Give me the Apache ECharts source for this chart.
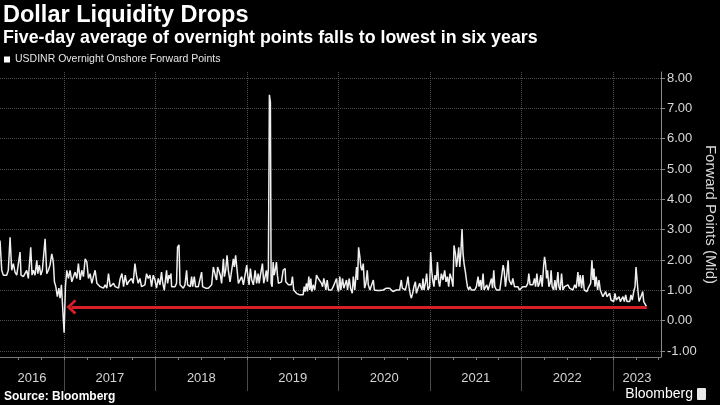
<!DOCTYPE html>
<html><head><meta charset="utf-8">
<script src="https://cdn.jsdelivr.net/npm/echarts@6/dist/echarts.min.js"></script>
<style>html,body{margin:0;padding:0;background:#000;}#c{width:720px;height:405px;}</style>
</head><body><div id="c"></div>
<script>
const chartTitle = 'Dollar Liquidity Drops';
const chartSubtitle = 'Five-day average of overnight points falls to lowest in six years';
const seriesName = 'USDINR Overnight Onshore Forward Points';
const yAxisName = 'Forward Points (Mid)';
const sourceText = 'Source: Bloomberg';
const yearBoundaries = [2017, 2018, 2019, 2020, 2021, 2022, 2023];
const yearLabels = [2016, 2017, 2018, 2019, 2020, 2021, 2022, 2023];
const yTickValues = [-1, 0, 1, 2, 3, 4, 5, 6, 7, 8];
const xStart = 2016.299, xEnd = 2023.525;
const yMin = -1.2, yMax = 8.2;
// [decimal year, forward points]
const points = [
[2016.299,2.64],[2016.318,1.66],[2016.335,1.5],[2016.354,1.55],[2016.372,1.5],[2016.390,1.66],[2016.409,2.75],[2016.427,1.66],[2016.445,1.88],[2016.463,1.6],[2016.482,1.5],[2016.499,1.45],[2016.518,2.26],[2016.529,1.5],[2016.554,1.45],[2016.573,1.5],[2016.591,1.66],[2016.609,1.39],[2016.635,2.42],[2016.649,1.5],[2016.664,1.66],[2016.682,1.5],[2016.701,1.99],[2016.712,1.55],[2016.729,1.83],[2016.745,1.5],[2016.762,1.66],[2016.792,2.7],[2016.810,1.55],[2016.828,1.66],[2016.846,1.83],[2016.865,2.2],[2016.876,2.04],[2016.883,1.88],[2016.894,1.28],[2016.909,1.12],[2016.926,0.79],[2016.942,1.07],[2016.956,0.74],[2016.970,1.18],[2016.986,1.12],[2017.000,-0.4],
[2017.014,1.12],[2017.029,1.66],[2017.047,1.39],[2017.065,1.66],[2017.084,1.28],[2017.102,1.45],[2017.120,1.6],[2017.139,1.39],[2017.156,1.88],[2017.175,1.34],[2017.193,1.66],[2017.211,1.45],[2017.230,2.04],[2017.248,1.94],[2017.266,1.39],[2017.284,1.55],[2017.303,1.23],[2017.320,1.45],[2017.339,1.66],[2017.358,1.23],[2017.375,1.28],[2017.394,1.12],[2017.412,1.18],[2017.430,1.07],[2017.449,1.18],[2017.467,1.07],[2017.485,1.55],[2017.504,1.12],[2017.522,1.07],[2017.540,1.23],[2017.558,1.12],[2017.577,1.18],[2017.595,1.07],[2017.613,1.39],[2017.632,1.55],[2017.650,1.12],[2017.668,1.5],[2017.687,1.18],[2017.704,1.28],[2017.720,1.28],[2017.737,1.39],[2017.755,1.23],[2017.774,1.88],[2017.791,1.5],[2017.810,1.23],[2017.829,1.39],[2017.846,1.12],[2017.865,1.07],[2017.883,1.18],[2017.901,1.55],[2017.919,1.39],[2017.938,1.5],[2017.956,1.12],[2017.974,1.5],[2017.993,1.34],
[2018.010,1.07],[2018.029,1.39],[2018.047,1.18],[2018.065,1.6],[2018.076,1.28],[2018.095,1.0],[2018.109,0.96],[2018.120,1.66],[2018.131,1.23],[2018.146,1.5],[2018.157,1.39],[2018.168,1.55],[2018.175,1.12],[2018.193,1.07],[2018.212,1.12],[2018.229,1.23],[2018.240,2.42],[2018.256,2.5],[2018.267,1.18],[2018.284,1.12],[2018.303,1.07],[2018.321,1.18],[2018.339,1.66],[2018.350,1.18],[2018.365,1.12],[2018.379,1.12],[2018.394,1.45],[2018.405,1.12],[2018.423,1.45],[2018.437,1.12],[2018.448,1.07],[2018.467,1.12],[2018.485,1.18],[2018.503,1.6],[2018.514,1.12],[2018.533,1.12],[2018.547,1.07],[2018.562,1.12],[2018.576,1.07],[2018.595,1.12],[2018.613,1.18],[2018.631,1.77],[2018.642,1.83],[2018.656,1.45],[2018.667,1.34],[2018.678,1.77],[2018.694,1.72],[2018.708,1.5],[2018.722,1.23],[2018.741,2.04],[2018.752,1.45],[2018.766,1.66],[2018.781,2.15],[2018.795,1.66],[2018.814,1.28],[2018.832,1.23],[2018.850,2.04],[2018.861,1.77],[2018.875,2.15],[2018.891,1.66],[2018.905,1.23],[2018.924,1.18],[2018.941,1.45],[2018.960,1.18],[2018.978,1.12],[2018.996,1.83],
[2019.007,1.5],[2019.022,1.18],[2019.036,1.72],[2019.051,1.34],[2019.069,1.18],[2019.088,1.66],[2019.105,1.23],[2019.121,1.55],[2019.132,1.23],[2019.146,1.5],[2019.168,1.88],[2019.182,1.23],[2019.201,1.18],[2019.211,1.66],[2019.222,1.28],[2019.233,1.72],[2019.244,7.45],[2019.255,7.2],[2019.263,1.23],[2019.274,1.12],[2019.285,1.93],[2019.296,1.5],[2019.307,1.66],[2019.321,1.93],[2019.332,1.5],[2019.343,1.23],[2019.357,1.18],[2019.376,1.28],[2019.394,1.66],[2019.405,1.6],[2019.416,1.72],[2019.423,1.28],[2019.438,1.23],[2019.452,1.18],[2019.467,1.12],[2019.482,1.18],[2019.496,1.45],[2019.510,1.01],[2019.526,0.96],[2019.540,0.9],[2019.559,0.9],[2019.576,0.85],[2019.595,0.79],[2019.613,0.85],[2019.624,1.12],[2019.635,0.96],[2019.649,1.23],[2019.660,0.96],[2019.675,1.45],[2019.686,1.01],[2019.697,1.39],[2019.708,0.96],[2019.723,1.18],[2019.740,1.01],[2019.759,1.5],[2019.778,1.39],[2019.795,1.45],[2019.814,1.23],[2019.825,1.12],[2019.839,1.39],[2019.850,1.23],[2019.861,1.01],[2019.876,1.34],[2019.890,1.01],[2019.905,0.96],[2019.923,1.01],[2019.942,1.12],[2019.959,1.07],[2019.978,1.39],[2019.989,1.07],
[2020.000,0.96],[2020.014,1.45],[2020.025,1.01],[2020.044,1.39],[2020.058,1.07],[2020.073,1.01],[2020.087,1.34],[2020.098,1.01],[2020.117,1.39],[2020.131,1.07],[2020.150,0.9],[2020.161,1.45],[2020.178,1.01],[2020.197,1.77],[2020.208,1.34],[2020.219,2.42],[2020.233,2.1],[2020.244,1.77],[2020.255,1.66],[2020.270,1.88],[2020.285,1.07],[2020.299,1.23],[2020.314,1.66],[2020.325,1.18],[2020.343,1.01],[2020.361,1.07],[2020.380,1.34],[2020.391,1.01],[2020.408,1.01],[2020.423,0.99],[2020.452,0.99],[2020.489,1.01],[2020.507,1.07],[2020.522,1.07],[2020.540,1.01],[2020.558,1.07],[2020.577,1.01],[2020.594,0.96],[2020.613,0.99],[2020.632,1.01],[2020.649,0.96],[2020.668,1.01],[2020.686,1.34],[2020.697,1.07],[2020.715,1.01],[2020.730,1.01],[2020.744,1.18],[2020.759,1.45],[2020.770,1.12],[2020.785,0.85],[2020.796,0.74],[2020.810,0.9],[2020.824,1.12],[2020.840,1.28],[2020.851,0.9],[2020.862,1.01],[2020.876,1.07],[2020.887,1.23],[2020.898,1.12],[2020.912,1.01],[2020.923,1.39],[2020.934,1.01],[2020.949,1.23],[2020.963,1.55],[2020.978,1.01],[2020.996,1.12],
[2021.007,2.26],[2021.018,1.66],[2021.029,1.34],[2021.043,1.12],[2021.054,1.5],[2021.070,1.34],[2021.081,1.93],[2021.095,1.28],[2021.106,1.12],[2021.124,1.55],[2021.142,1.34],[2021.160,1.66],[2021.175,1.28],[2021.190,1.45],[2021.204,1.12],[2021.218,1.55],[2021.234,1.39],[2021.251,1.12],[2021.262,2.48],[2021.278,2.2],[2021.289,1.77],[2021.299,1.99],[2021.314,2.42],[2021.325,1.77],[2021.336,2.2],[2021.350,3.02],[2021.361,2.2],[2021.372,1.88],[2021.387,1.6],[2021.398,1.34],[2021.409,1.12],[2021.423,1.01],[2021.434,1.12],[2021.453,1.01],[2021.470,1.07],[2021.489,1.01],[2021.507,1.12],[2021.525,1.45],[2021.536,1.12],[2021.551,1.34],[2021.562,1.01],[2021.580,1.55],[2021.591,1.01],[2021.606,1.01],[2021.620,1.18],[2021.635,1.01],[2021.653,1.01],[2021.672,1.39],[2021.683,1.07],[2021.697,1.66],[2021.708,1.12],[2021.726,1.01],[2021.744,0.96],[2021.763,1.01],[2021.781,1.07],[2021.799,1.83],[2021.810,1.66],[2021.825,1.12],[2021.839,1.5],[2021.854,1.99],[2021.865,1.34],[2021.876,1.39],[2021.891,1.18],[2021.905,1.39],[2021.923,1.12],[2021.941,1.07],[2021.960,1.12],[2021.978,1.01],[2021.996,1.07],
[2022.014,1.12],[2022.033,1.07],[2022.051,1.12],[2022.069,1.23],[2022.080,1.55],[2022.094,1.18],[2022.110,1.23],[2022.124,1.18],[2022.142,1.39],[2022.154,1.12],[2022.168,1.55],[2022.182,1.12],[2022.197,1.23],[2022.211,1.5],[2022.226,1.12],[2022.241,1.77],[2022.252,2.1],[2022.263,1.88],[2022.274,1.39],[2022.285,1.66],[2022.299,1.12],[2022.313,1.23],[2022.324,1.66],[2022.335,1.12],[2022.351,1.01],[2022.365,1.34],[2022.379,1.01],[2022.398,1.6],[2022.409,1.12],[2022.423,1.01],[2022.438,1.55],[2022.453,1.01],[2022.471,1.12],[2022.489,1.07],[2022.507,1.18],[2022.526,1.07],[2022.544,1.12],[2022.562,1.01],[2022.581,1.18],[2022.598,1.07],[2022.617,1.6],[2022.628,1.12],[2022.642,1.5],[2022.657,1.07],[2022.671,1.5],[2022.686,1.01],[2022.701,1.07],[2022.715,0.96],[2022.729,1.07],[2022.745,1.01],[2022.756,1.23],[2022.770,1.99],[2022.781,1.34],[2022.792,1.72],[2022.803,1.12],[2022.817,1.45],[2022.832,1.01],[2022.847,1.34],[2022.861,1.01],[2022.876,0.96],[2022.890,0.79],[2022.905,0.85],[2022.920,0.96],[2022.934,0.79],[2022.948,0.74],[2022.964,0.9],[2022.978,0.68],[2022.992,0.74],
[2023.008,0.63],[2023.022,0.9],[2023.036,0.68],[2023.051,0.63],[2023.066,0.79],[2023.080,0.63],[2023.095,0.68],[2023.109,0.79],[2023.124,0.63],[2023.139,0.85],[2023.153,0.63],[2023.167,0.68],[2023.183,0.63],[2023.197,0.85],[2023.211,0.68],[2023.227,0.96],[2023.241,1.12],[2023.252,1.77],[2023.263,1.83],[2023.274,0.96],[2023.285,0.63],[2023.299,0.68],[2023.314,0.85],[2023.325,0.96],[2023.336,0.63],[2023.350,0.58],[2023.365,0.47]
];
const arrowLevel = 0.45;
const arrowFrom = 2023.37, arrowTo = 2017.08;

const FONT = '"Liberation Sans", Arial, sans-serif';
const labelPos = yearLabels.map(y => (Math.max(y, xStart) + Math.min(y + 1, xEnd)) / 2);
const quarterTicks = [];
for (let q = Math.ceil(xStart * 4); q <= Math.floor(xEnd * 4); q++) quarterTicks.push(q / 4);

const chart = echarts.init(document.getElementById('c'), null, {renderer: 'canvas'});
chart.setOption({
  backgroundColor: '#000',
  animation: false,
  textStyle: {fontFamily: FONT},
  title: [
    {text: chartTitle, left: 3, top: 4, padding: 0, textStyle: {color: '#fff', fontSize: 23.5, fontWeight: 'bold', fontFamily: FONT}},
    {text: chartSubtitle, left: 3, top: 29, padding: 0, textStyle: {color: '#fff', fontSize: 17.8, fontWeight: 'bold', fontFamily: FONT}}
  ],
  legend: {
    data: [seriesName], left: 4, top: 54, padding: 0, icon: 'rect', itemWidth: 6, itemHeight: 6, itemGap: 4,
    textStyle: {color: '#e6e6e6', fontSize: 10.5, fontFamily: FONT}
  },
  grid: {left: 0, right: 59, top: 72, bottom: 48, containLabel: false, outerBoundsMode: 'none'},
  xAxis: [
    {
      type: 'value', min: xStart, max: xEnd, position: 'bottom',
      axisLine: {show: true, onZero: false, lineStyle: {color: '#7a7a7a', width: 1}},
      axisTick: {show: true, customValues: yearBoundaries, length: 34, lineStyle: {color: '#4a4a4a'}},
      axisLabel: {customValues: labelPos, formatter: v => String(Math.floor(v + 1e-9)), color: '#d4d4d4', fontSize: 13, margin: 15, fontFamily: FONT},
      splitLine: {show: true, lineStyle: {color: '#4d4d4d', type: 'dotted', width: 1}}
    },
    {
      type: 'value', min: xStart, max: xEnd, position: 'bottom',
      axisLine: {show: false, onZero: false},
      axisTick: {show: true, customValues: quarterTicks, length: 3, lineStyle: {color: '#7a7a7a'}},
      axisLabel: {show: false},
      splitLine: {show: false}
    }
  ],
  yAxis: {
    type: 'value', position: 'right', min: yMin, max: yMax,
    axisLine: {show: true, onZero: false, lineStyle: {color: '#8a8a8a'}},
    axisTick: {show: true, customValues: yTickValues, length: 4, lineStyle: {color: '#8a8a8a'}},
    axisLabel: {customValues: yTickValues, formatter: v => v.toFixed(2), color: '#d9d9d9', fontSize: 13, margin: 6, fontFamily: FONT},
    splitLine: {show: true, lineStyle: {color: '#4d4d4d', type: 'dotted', width: 1}},
    name: yAxisName, nameLocation: 'middle', nameRotate: -90, nameGap: 42, nameMoveOverlap: false,
    nameTextStyle: {color: '#d9d9d9', fontSize: 15, fontFamily: FONT}
  },
  series: [{
    name: seriesName, type: 'line', data: points, symbol: 'none', xAxisIndex: 0,
    lineStyle: {color: '#efefef', width: 1.5}, itemStyle: {color: '#ffffff'},
    markLine: {
      silent: true, animation: false,
      symbol: ['none', 'path://M0,10 L10,0 L20,10 L17.5,12.5 L10,5 L2.5,12.5 Z'],
      symbolSize: [15, 10],
      label: {show: false},
      lineStyle: {color: '#d71f27', width: 3, type: 'solid'},
      data: [[{coord: [arrowFrom, arrowLevel]}, {coord: [arrowTo, arrowLevel]}]]
    }
  }],
  graphic: [
    {type: 'text', left: 4, top: 391, style: {text: sourceText, fill: '#fff', font: 'bold 12px ' + FONT}},
    {type: 'text', right: 27, top: 387, style: {text: 'Bloomberg', fill: '#fff', font: '14px ' + FONT}},
    {type: 'rect', right: 14, top: 388, shape: {width: 9, height: 12, r: 1}, style: {fill: '#e8e8e8'}}
  ]
});
</script></body></html>
